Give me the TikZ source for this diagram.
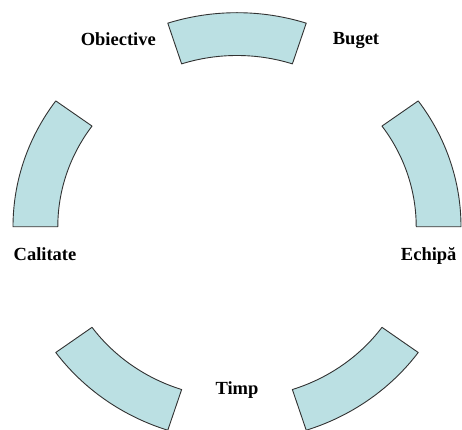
\documentclass[tikz,border=0pt]{standalone}
\usepackage{fontspec}
\setmainfont{Liberation Serif}
\usetikzlibrary{calc}
\definecolor{segfill}{RGB}{187,224,227}
\definecolor{segline}{RGB}{50,50,50}
\tikzset{
  segment/.style={fill=segfill,draw=segline,line width=0.9pt,line join=round},
  lbl/.style={font=\fontsize{18.5}{20}\selectfont\bfseries,anchor=base,inner sep=0pt}
}
\begin{document}
\begin{tikzpicture}[x=1pt,y=1pt]
\useasboundingbox (0,0) rectangle (462,429);
\coordinate (C) at (237,202.3);
\foreach \a in {0,72,144,216,288}{
  \pgfmathsetmacro{\b}{\a+36}
  \draw[segment] ($(C)+(\a:224pt and 214pt)$)
    arc[start angle=\a,end angle=\b,x radius=224pt,y radius=214pt]
    -- ($(C)+(\b:179.2pt and 171.2pt)$)
    arc[start angle=\b,end angle=\a,x radius=179.2pt,y radius=171.2pt]
    -- cycle;
}
\node[lbl] (obiective) at (118.3,383.3) {Obiective};
\node[lbl] (buget) at (356,384) {Buget};
\node[lbl] (calitate) at (45,169) {Calitate};
\node[lbl] (echipa) at (428.7,169) {Echipă};
\node[lbl] (timp) at (237,34.7) {Timp};
\end{tikzpicture}
\end{document}
